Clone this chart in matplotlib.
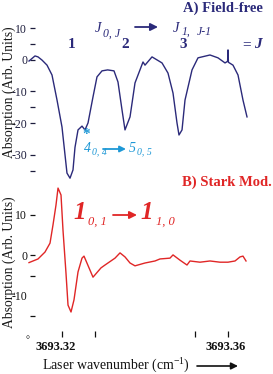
import matplotlib
matplotlib.use("Agg")
import matplotlib.pyplot as plt
from matplotlib.transforms import ScaledTranslation

plt.rcParams['font.family'] = ['Liberation Serif', 'DejaVu Serif']
plt.rcParams['mathtext.fontset'] = 'custom'
plt.rcParams['mathtext.rm'] = 'Liberation Serif'
plt.rcParams['mathtext.it'] = 'Liberation Serif:italic'
plt.rcParams['mathtext.bf'] = 'Liberation Serif:bold'

# ---------------- data ----------------
# Panel A: field-free absorption trace
wn_a = [3693.31205, 3693.31349, 3693.31422, 3693.31518, 3693.31639, 3693.31759,
        3693.31880, 3693.32000, 3693.32120, 3693.32193, 3693.32265, 3693.32313,
        3693.32386, 3693.32482, 3693.32554, 3693.32627, 3693.32747, 3693.32843,
        3693.32964, 3693.33100, 3693.33253, 3693.33349, 3693.33446, 3693.33518, 3693.33639,
        3693.33759, 3693.33952, 3693.34000, 3693.34169, 3693.34410, 3693.34554,
        3693.34675, 3693.34771, 3693.34819, 3693.34892, 3693.34964, 3693.35133,
        3693.35277, 3693.35566, 3693.35759, 3693.35928, 3693.35990, 3693.36000,
        3693.36010, 3693.36120, 3693.36241, 3693.36361, 3693.36458]
abs_a = [-0.4, 1.2, 0.9, -0.1, -1.7, -4.8,
         -12.7, -21.2, -35.7, -37.3, -34.7, -27.6,
         -22.1, -20.9, -22.1, -19.9, -11.7, -5.4,
         -3.5, -3.2, -3.5, -7.0, -15.8, -22.1, -18.0,
         -7.3, -0.7, -1.7, 0.9, -1.0, -4.2,
         -10.5, -19.9, -23.7, -22.1, -12.7, -3.2,
         0.6, 1.5, 0.6, -1.0, -0.5, 3.1,
         -0.8, -1.7, -4.8, -12.7, -18.0]

# Panel B: Stark-modulated trace
wn_b = [3693.31205, 3693.31422, 3693.31590, 3693.31711, 3693.31783, 3693.31855,
        3693.31904, 3693.31976, 3693.32024, 3693.32096, 3693.32145, 3693.32217,
        3693.32289, 3693.32386, 3693.32482, 3693.32530, 3693.32651, 3693.32747,
        3693.32940, 3693.33036, 3693.33277, 3693.33398, 3693.33518, 3693.33639,
        3693.33759, 3693.34000, 3693.34241, 3693.34361, 3693.34602, 3693.34675,
        3693.34843, 3693.35012, 3693.35084, 3693.35325, 3693.35566, 3693.35807,
        3693.36000, 3693.36169, 3693.36289, 3693.36361, 3693.36434]
abs_b = [-1.8, -0.9, 0.8, 3.0, 7.5, 12.4,
         16.6, 14.9, 6.2, -4.4, -12.3, -14.0,
         -11.0, -4.1, -0.7, -0.2, -3.1, -5.4,
         -3.1, -2.4, -0.7, 0.6, -0.4, -1.9,
         -2.6, -1.9, -1.4, -0.9, -0.7, 0.1,
         -1.2, -2.4, -1.4, -1.7, -1.4, -1.7,
         -1.7, -1.4, -0.4, -0.2, -1.4]

yticks_a = [10, 5, 0, -10, -15, -20, -30, -35]
ylabels_a = ['10', '', '0', '-10', '', '-20', '-30', '']
yticks_b = [10, 0, -5, -10, -15]
ylabels_b = ['10', '0', '', '-10', '']
xticks = [3693.32, 3693.328, 3693.352, 3693.36]
xlabels = ['3693.32', '', '', '3693.36']

NAVY = '#2b2a7a'
RED = '#e02626'
CYAN = '#1e98d6'

W, H = 273, 374
fig = plt.figure(figsize=(W / 100, H / 100), dpi=100)

def fx(x):
    return x / W

def fy(y):
    return 1 - y / H

xlim = (3693.312289, 3693.370843)

axA = fig.add_axes([fx(30), fy(185), 243 / W, 185 / H])
axB = fig.add_axes([fx(30), fy(331), 243 / W, 146 / H])

for ax in (axA, axB):
    ax.set_facecolor('none')
    for s in ax.spines.values():
        s.set_visible(False)
    ax.set_xlim(*xlim)

axA.plot(wn_a, abs_a, color=NAVY, lw=1.0, clip_on=False)
axA.set_ylim(-39.45, 18.82)
axA.set_xticks([])
axA.set_yticks(yticks_a)
axA.set_yticklabels(ylabels_a)
axA.tick_params(axis='y', direction='in', length=3.6, width=0.9, pad=2,
                labelsize=8.5, colors='#1c1c3c')

axB.plot(wn_b, abs_b, color=RED, lw=1.0, clip_on=False)
axB.set_ylim(-18.69, 17.36)
axB.set_yticks(yticks_b)
axB.set_yticklabels(ylabels_b)
axB.tick_params(axis='y', direction='in', length=3.6, width=0.9, pad=2,
                labelsize=8.5, colors='#111111')
axB.yaxis.get_major_ticks()[3].tick1line.set_visible(False)
axB.set_xticks(xticks)
axB.set_xticklabels(xlabels, fontweight='bold', fontsize=9)
axB.tick_params(axis='x', direction='out', length=4.3, width=0.9, pad=3,
                colors='#111111')
offs = [-6, -2, 0, -2]
for lab, o in zip(axB.get_xticklabels(), offs):
    lab.set_transform(lab.get_transform() + ScaledTranslation(o / 100, 0, fig.dpi_scale_trans))

for ax, yc in ((axA, 0.50), (axB, 0.47)):
    ax.set_ylabel('Absorption (Arb. Units)', fontsize=9.8, color='#1a1a1a')
    ax.yaxis.set_label_coords(-0.058, yc)

# x label
fig.text(fx(42), fy(366), 'Laser wavenumber (cm$^{-1}$)', fontsize=10,
         ha='left', va='center', color='#111111')
fig.text(fx(28), fy(341), '°', fontsize=7, ha='center', va='center')

def arrow(x0, x1, y, color, lw=1.2, ms=10):
    fig.add_artist(matplotlib.patches.FancyArrowPatch(
        (fx(x0), fy(y)), (fx(x1), fy(y)), transform=fig.transFigure,
        arrowstyle='-|>', color=color, lw=lw, mutation_scale=ms,
        shrinkA=0, shrinkB=0))

arrow(197, 238, 366, '#111111')

# Panel A annotations
fig.text(fx(263), fy(8), 'A) Field-free', fontsize=10.5, fontweight='bold',
         color=NAVY, ha='right', va='center')
fig.text(fx(95), fy(29), 'J', fontsize=10.5, style='italic', color=NAVY, ha='left', va='center')
fig.text(fx(103), fy(34), '0, J', fontsize=8.5, style='italic', color=NAVY, ha='left', va='center')
arrow(135, 158, 27, NAVY, lw=1.3, ms=11)
fig.text(fx(173), fy(28), 'J', fontsize=10.5, style='italic', color=NAVY, ha='left', va='center')
fig.text(fx(182), fy(32), '1,', fontsize=8.5, style='italic', color=NAVY, ha='left', va='center')
fig.text(fx(197), fy(32), 'J-1', fontsize=8.5, style='italic', color=NAVY, ha='left', va='center')
for lbl, xx in (('1', 72), ('2', 125), ('3', 183)):
    fig.text(fx(xx), fy(45), lbl, fontsize=11, fontweight='bold', color=NAVY,
             ha='center', va='center')
fig.text(fx(242), fy(45), '=', fontsize=11, fontweight='bold', color=NAVY, ha='left', va='center')
fig.text(fx(254), fy(44), 'J', fontsize=11, fontweight='bold', style='italic', color=NAVY,
         ha='left', va='center')

fig.text(fx(86), fy(135), '*', fontsize=11, fontweight='bold', color=CYAN, ha='center', va='center')
fig.text(fx(84), fy(148), '4', fontsize=10, style='italic', color=CYAN, ha='left', va='center')
fig.text(fx(92), fy(152), '0, 4', fontsize=7, style='italic', color=CYAN, ha='left', va='center')
arrow(103, 126, 149, CYAN, lw=1.3, ms=9)
fig.text(fx(129), fy(148), '5', fontsize=10, style='italic', color=CYAN, ha='left', va='center')
fig.text(fx(137), fy(152), '0, 5', fontsize=7, style='italic', color=CYAN, ha='left', va='center')

# Panel B annotations
fig.text(fx(272), fy(182), 'B) Stark Mod.', fontsize=10.5, fontweight='bold',
         color=RED, ha='right', va='center')
fig.text(fx(73), fy(212), '1', fontsize=18, fontweight='bold', style='italic', color=RED,
         ha='left', va='center')
fig.text(fx(88), fy(222), '0, 1', fontsize=9, style='italic', color=RED, ha='left', va='center')
arrow(113, 137, 215, RED, lw=1.3, ms=11)
fig.text(fx(140), fy(212), '1', fontsize=18, fontweight='bold', style='italic', color=RED,
         ha='left', va='center')
fig.text(fx(156), fy(222), '1, 0', fontsize=9, style='italic', color=RED, ha='left', va='center')

fig.savefig('out.png', dpi=100)
